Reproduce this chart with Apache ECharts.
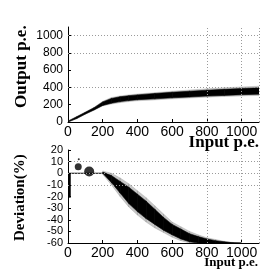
<!DOCTYPE html>
<html><head><meta charset="utf-8">
<script src="https://cdn.jsdelivr.net/npm/echarts@6/dist/echarts.min.js"></script>
<style>html,body{margin:0;padding:0;background:#fff}#c{width:273px;height:273px}</style>
</head><body><div id="c"></div>
<script>
// ---- Top panel: Output p.e. vs Input p.e. (band)
const topInput     = [0, 50, 100, 150, 200, 250, 300, 350, 400, 500, 600, 700, 800, 900, 1000, 1100];
const topCoreLow   = [0, 40, 92, 140, 192, 218, 236, 248, 258, 268, 280, 290, 300, 308, 316, 322];
const topCoreHigh  = [10, 60, 112, 165, 232, 272, 292, 304, 314, 330, 344, 356, 368, 378, 388, 396];
const topFringeLow = [0, 38, 90, 136, 186, 208, 224, 236, 246, 256, 268, 278, 288, 296, 302, 308];
const topFringeHigh= [12, 64, 116, 170, 240, 284, 302, 314, 324, 340, 356, 370, 384, 396, 406, 414];

// ---- Bottom panel: Deviation(%) vs Input p.e.
const botInput      = [200, 250, 300, 350, 400, 450, 500, 550, 600, 650, 700, 750, 800, 850, 900, 950, 1000];
const botFringeHigh = [2, 0, -4, -9, -15, -21, -28, -35, -42, -46, -50, -53, -55.5, -57, -58.5, -59.5, -60];
const botFringeLow  = [-1, -10, -20, -29, -36, -42, -47, -51, -55, -58, -60, -60, -60, -60, -60, -60, -60];
const botCoreHigh   = [1, -2, -7, -12, -18, -24, -31, -38, -44, -48, -52, -54.5, -56.5, -58, -59, -59.8, -60];
const botCoreLow    = [0, -8, -17, -26, -33, -39, -44, -49, -53, -56.5, -59, -60, -60, -60, -60, -60, -60];
const zeroLineX = [0, 200];
const zeroLineY = [0, 0];
const spikeX = [10, 10];
const spikeY = [0, -21];
const blobs = [[59, 5.5, 7], [122, 1.5, 10], [62, 12, 2]]; // [input, deviation, size]

const lbl = {fontFamily: 'Liberation Sans', color: '#000', formatter: v => String(v)};
const serif = 'Liberation Serif';

function band(xi, yi, xs, lo, hi, color) {
  return {
    type: 'custom', xAxisIndex: xi, yAxisIndex: yi, clip: true, silent: true,
    data: xs.map((x, i) => [x, lo[i], hi[i]]),
    encode: {x: 0, y: [1, 2]},
    renderItem: (params, api) => {
      const i = params.dataIndex;
      if (i >= xs.length - 1) return null;
      const pts = [api.coord([xs[i], hi[i]]), api.coord([xs[i+1], hi[i+1]]),
                   api.coord([xs[i+1], lo[i+1]]), api.coord([xs[i], lo[i]])];
      return {type: 'polygon', shape: {points: pts}, style: {fill: color, stroke: color, lineWidth: 0.6}};
    }
  };
}
const gridLineStyle = {color: '#9a9a9a', type: [1, 2], width: 1};
function marks(ys, xs) {
  return {silent: true, symbol: 'none', label: {show: false}, lineStyle: gridLineStyle,
    data: ys.map(v => ({yAxis: v})).concat(xs.map(v => ({xAxis: v})))};
}

const chart = echarts.init(document.getElementById('c'), null, {renderer: 'canvas'});
const axisCommon = {
  axisLine: {show: true, onZero: false, lineStyle: {color: '#000', width: 1}},
  axisTick: {show: true, inside: true, length: 3, lineStyle: {color: '#000'}},
  splitLine: {show: false}
};
chart.setOption({
  animation: false,
  grid: [
    {left: 68, right: 14, top: 27, height: 95},
    {left: 68, right: 14, top: 150, height: 93}
  ],
  xAxis: [
    Object.assign({type: 'value', gridIndex: 0, min: 0, max: 1100, interval: 200,
      axisLabel: Object.assign({fontSize: 14, margin: 3, showMaxLabel: false}, lbl)}, axisCommon),
    Object.assign({type: 'value', gridIndex: 1, min: 0, max: 1100, interval: 200,
      axisLabel: Object.assign({fontSize: 14, margin: 3, showMaxLabel: false}, lbl)}, axisCommon)
  ],
  yAxis: [
    Object.assign({type: 'value', gridIndex: 0, min: 0, max: 1100, interval: 200,
      axisLabel: Object.assign({fontSize: 12, margin: 5, showMaxLabel: false}, lbl)}, axisCommon),
    Object.assign({type: 'value', gridIndex: 1, min: -60, max: 20, interval: 10,
      axisLabel: Object.assign({fontSize: 11, margin: 5}, lbl)}, axisCommon)
  ],
  graphic: [
    {type: 'text', x: 13, y: 108, rotation: Math.PI/2,
      style: {text: 'Output p.e.', font: 'bold 17px ' + serif, fill: '#000', textVerticalAlign: 'top'}},
    {type: 'text', right: 14, top: 134,
      style: {text: 'Input p.e.', font: 'bold 17px ' + serif, fill: '#000'}},
    {type: 'text', x: 13, y: 241, rotation: Math.PI/2,
      style: {text: 'Deviation(%)', font: 'bold 15px ' + serif, fill: '#000', textVerticalAlign: 'top'}},
    {type: 'text', right: 15, top: 256,
      style: {text: 'Input p.e.', font: 'bold 13px ' + serif, fill: '#000'}}
  ],
  series: [
    band(0, 0, topInput, topFringeLow, topFringeHigh, 'rgba(130,130,130,0.45)'),
    band(0, 0, topInput, topCoreLow, topCoreHigh, '#000'),
    {type: 'line', xAxisIndex: 0, yAxisIndex: 0, data: [], markLine: marks([400, 800, 1000], [800, 1000, 1100])},
    band(1, 1, botInput, botFringeLow, botFringeHigh, 'rgba(130,130,130,0.45)'),
    band(1, 1, botInput, botCoreLow, botCoreHigh, '#000'),
    {type: 'line', xAxisIndex: 1, yAxisIndex: 1, symbol: 'none', silent: true,
      data: zeroLineX.map((x, i) => [x, zeroLineY[i]]), lineStyle: {color: '#000', width: 1},
      markLine: marks([10, 0, -10], [800, 1000, 1100])},
    {type: 'line', xAxisIndex: 1, yAxisIndex: 1, symbol: 'none', silent: true,
      data: spikeX.map((x, i) => [x, spikeY[i]]), lineStyle: {color: '#000', width: 2}},
    {type: 'scatter', xAxisIndex: 1, yAxisIndex: 1, silent: true,
      data: blobs.map(b => [b[0], b[1]]), symbolSize: (v, p) => blobs[p.dataIndex][2],
      itemStyle: {color: '#000'}}
  ]
});
</script></body></html>
